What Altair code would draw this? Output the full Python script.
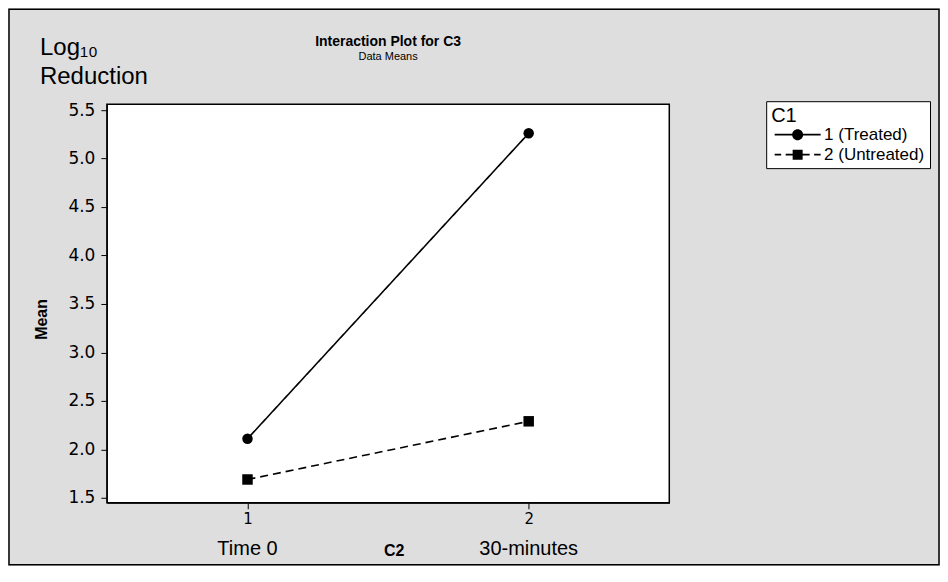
import altair as alt
import pandas as pd

# ---- data ----
levels = [1, 2]
level_names = ["Time 0", "30-minutes"]
groups = ["1 (Treated)", "2 (Untreated)"]
treated_means = [2.11, 5.26]
untreated_means = [1.69, 2.29]
y_ticks = [1.5, 2.0, 2.5, 3.0, 3.5, 4.0, 4.5, 5.0, 5.5]

rows = []
for g, vals in zip(groups, [treated_means, untreated_means]):
    for lv, v in zip(levels, vals):
        rows.append({"C2": lv, "C1": g, "Mean": v})
df = pd.DataFrame(rows)
names_df = pd.DataFrame({"C2": levels, "name": level_names})

W, H = 563, 399
FONT = "Liberation Sans"

x_scale = alt.Scale(domain=[0.5, 2.5], nice=False, zero=False)
y_scale = alt.Scale(domain=[1.45, 5.56], nice=False, zero=False)

x_enc = alt.X(
    "C2:Q", scale=x_scale,
    axis=alt.Axis(values=levels, format="d", title="C2", grid=False,
                  labelFont="DejaVu Sans", labelFontSize=15, labelColor="black",
                  labelPadding=3, tickSize=6, tickColor="black", domainColor="black",
                  titleFont=FONT, titleFontSize=16, titleFontWeight="bold",
                  titleColor="black", titleY=53, titleX=287, titleBaseline="alphabetic"),
)
y_enc = alt.Y(
    "Mean:Q", scale=y_scale,
    axis=alt.Axis(values=y_ticks, format=".1f",
                  title="Mean", grid=False,
                  labelFont="DejaVu Sans", labelFontSize=17, labelColor="black",
                  labelPadding=6, tickSize=6, tickColor="black", domainColor="black",
                  titleFont=FONT, titleFontSize=16, titleFontWeight="bold",
                  titleColor="black", titleX=-60, titleY=215, titleAngle=270,
                  titleAlign="center", titleBaseline="alphabetic"),
)

dash_scale = alt.Scale(domain=groups, range=[[1, 0], [8, 5]])

# legend glyphs: line segments drawn as thin filled bars around the marker
solid_bars = "M-4.6,-0.16L-1,-0.16L-1,0.16L-4.6,0.16ZM1,-0.16L4.6,-0.16L4.6,0.16L1,0.16Z"
dash_bars = ("M-4.6,-0.16L-3.3,-0.16L-3.3,0.16L-4.6,0.16Z"
             "M-2.4,-0.16L-1,-0.16L-1,0.16L-2.4,0.16Z"
             "M1,-0.16L2.4,-0.16L2.4,0.16L1,0.16Z"
             "M3.3,-0.16L4.6,-0.16L4.6,0.16L3.3,0.16Z")
circle_path = solid_bars + "M-1.1,0A1.1,1.1 0 1 1 1.1,0A1.1,1.1 0 1 1 -1.1,0Z"
square_path = dash_bars + "M-1,-1L1,-1L1,1L-1,1Z"

lines = alt.Chart(df).mark_line(color="black", strokeWidth=1.6).encode(
    x=x_enc, y=y_enc,
    strokeDash=alt.StrokeDash("C1:N", scale=dash_scale, legend=None),
)

points = alt.Chart(df).mark_point(filled=True, color="black", size=110, opacity=1).encode(
    x=x_enc, y=y_enc,
    shape=alt.Shape("C1:N", scale=alt.Scale(domain=groups, range=["circle", "square"]),
                    legend=None),
)

legend_layer = alt.Chart(df).transform_filter("false").mark_point(
    filled=True, color="black", opacity=1
).encode(
    x=x_enc, y=y_enc,
    shape=alt.Shape(
        "C1:N", scale=alt.Scale(domain=groups, range=[circle_path, square_path]),
        legend=alt.Legend(
            title="C1", orient="none", legendX=660, legendY=-3,
            fillColor="white", strokeColor="black", padding=5,
            titleFont=FONT, titleFontSize=20, titleFontWeight="normal",
            titleColor="black", titlePadding=0,
            labelFont=FONT, labelFontSize=17, labelColor="black",
            symbolSize=100, symbolFillColor="black", symbolStrokeWidth=0,
            symbolOffset=18, labelOffset=18, rowPadding=2,
        ),
    ),
)

cat_names = alt.Chart(names_df).mark_text(
    font=FONT, fontSize=20, color="black", baseline="alphabetic"
).encode(x=alt.X("C2:Q", scale=x_scale), y=alt.value(H + 52), text="name:N")

ylab = pd.DataFrame({"t": ["Log\u2081\u2080", "Reduction"], "row": [0, 1]})
ylab_text = alt.Chart(ylab).mark_text(
    font=FONT, fontSize=24, color="black", align="left", baseline="alphabetic"
).encode(x=alt.value(-67), y=alt.value(-49),
         yOffset=alt.YOffset("row:Q", scale=alt.Scale(domain=[0, 1], range=[0, 29])),
         text="t:N")

frame = alt.Chart(pd.DataFrame({"a": [0]})).mark_rect(
    fill=None, stroke="black", strokeWidth=1.5
).encode(x=alt.value(-98), x2=alt.value(W + 270), y=alt.value(-95), y2=alt.value(H + 62))

chart = alt.layer(frame, lines, points, legend_layer, cat_names, ylab_text).resolve_scale(
    shape="independent"
).properties(
    width=W, height=H,
    title=alt.TitleParams(
        "Interaction Plot for C3", subtitle="Data Means",
        font=FONT, fontSize=14, fontWeight="bold", color="black",
        subtitleFont=FONT, subtitleFontSize=11, subtitleColor="black",
        anchor="middle", offset=-54, subtitlePadding=3,
    ),
    autosize=alt.AutoSizeParams(type="none"),
    padding={"left": 99, "top": 96, "right": 271, "bottom": 63},
    background="#dedede",
).configure_view(stroke="black", strokeWidth=1.5, fill="white")

chart.save("out.html", embed_options={"renderer": "svg", "actions": False})
